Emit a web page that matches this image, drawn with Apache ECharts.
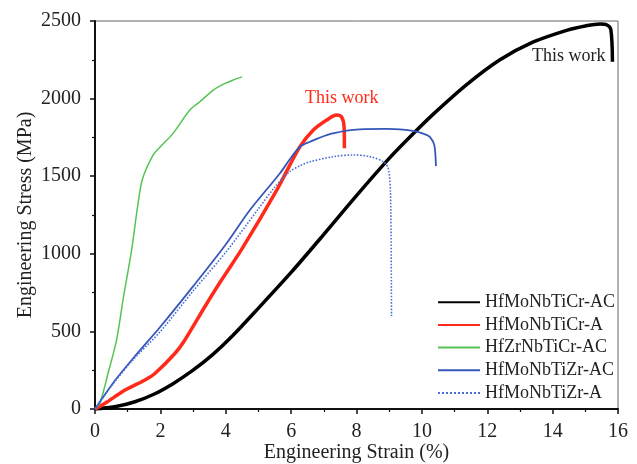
<!DOCTYPE html>
<html>
<head>
<meta charset="utf-8">
<script src="https://cdn.jsdelivr.net/npm/echarts@6/dist/echarts.min.js"></script>
<style>html,body{margin:0;padding:0;background:#fff}#c{width:637px;height:464px}</style>
</head>
<body>
<div id="c"></div>
<script>
const seriesNames = ['HfMoNbTiCr-AC', 'HfMoNbTiCr-A', 'HfZrNbTiCr-AC', 'HfMoNbTiZr-AC', 'HfMoNbTiZr-A'];
const xTicks = [0, 2, 4, 6, 8, 10, 12, 14, 16];
const yTicks = [0, 500, 1000, 1500, 2000, 2500];
const annotations = ['This work', 'This work'];

const hfMoNbTiCrAC = [[0,0],[0.6,14],[1.2,45],[1.8,95],[2.4,165],[3.0,250],[3.6,350],[4.2,470],[5,650],[6,880],[7,1125],[8,1375],[9,1615],[9.74,1775],[10.35,1900],[11.37,2090],[12.39,2250],[13.41,2365],[14.43,2440],[15,2468],[15.45,2481],[15.65,2476],[15.78,2445],[15.83,2238]];
const hfMoNbTiCrA = [[0,0],[0.31,37],[0.92,122],[1.53,187],[1.84,230],[2.45,359],[2.75,445],[3.36,659],[3.87,831],[4.49,1030],[5.56,1411],[6.27,1690],[6.68,1798],[7.09,1862],[7.39,1894],[7.54,1883],[7.62,1819],[7.63,1680]];
const hfZrNbTiCrAC = [[0,0],[0.15,38],[0.4,230],[0.66,445],[0.87,720],[1.12,1024],[1.3,1300],[1.45,1480],[1.78,1637],[2.0,1690],[2.39,1776],[2.9,1926],[3.2,1978],[3.62,2055],[4.0,2100],[4.23,2120],[4.5,2140]];
const hfMoNbTiZrAC = [[0,0],[0.6,180],[1.2,335],[2,530],[3,790],[4,1060],[4.74,1282],[5.66,1519],[6.0,1620],[6.27,1690],[6.58,1722],[7.09,1765],[7.7,1793],[8.1,1802],[8.9,1805],[9.5,1798],[9.84,1787],[10.1,1770],[10.25,1752],[10.38,1700],[10.43,1565]];
const hfMoNbTiZrA = [[0,0],[0.6,175],[1.2,325],[2,500],[3,760],[4,1010],[5,1290],[5.5,1430],[5.96,1530],[6.3,1570],[6.58,1593],[7.29,1626],[7.9,1637],[8.41,1626],[8.82,1593],[8.97,1551],[9.04,1400],[9.07,600]];

const serif = '"Liberation Serif", "DejaVu Serif", serif';
const chart = echarts.init(document.getElementById('c'), null, {renderer: 'canvas'});
const lineSeries = (name, data, color, width, type, smooth) => ({
  name, type: 'line', data, showSymbol: false, symbol: 'none', smooth,
  lineStyle: {color, width, type}, itemStyle: {color}, z: 3
});
chart.setOption({
  animation: false,
  backgroundColor: '#fff',
  grid: {left: 95, right: 19, top: 21, bottom: 55, containLabel: false, outerBoundsMode: 'none',
         show: true, borderColor: '#666', borderWidth: 1},
  xAxis: {
    type: 'value', min: xTicks[0], max: xTicks[xTicks.length - 1], interval: 2,
    name: 'Engineering Strain (%)', nameLocation: 'middle', nameGap: 34, nameMoveOverlap: false,
    nameTextStyle: {fontFamily: serif, fontSize: 20, color: '#222'},
    axisLine: {lineStyle: {color: '#111', width: 2}},
    axisTick: {length: 5, lineStyle: {color: '#111', width: 1.5}},
    minorTick: {show: true, splitNumber: 2, length: 3, lineStyle: {color: '#111', width: 1.2}},
    axisLabel: {fontFamily: serif, fontSize: 20, color: '#222', margin: 13, formatter: v => String(v)},
    splitLine: {show: false}
  },
  yAxis: {
    type: 'value', min: yTicks[0], max: yTicks[yTicks.length - 1], interval: 500,
    name: 'Engineering Stress (MPa)', nameLocation: 'middle', nameGap: 59, nameMoveOverlap: false,
    nameTextStyle: {fontFamily: serif, fontSize: 20, color: '#222'},
    axisLine: {show: true, lineStyle: {color: '#111', width: 2}},
    axisTick: {show: true, length: 5, lineStyle: {color: '#111', width: 1.5}},
    minorTick: {show: true, splitNumber: 2, length: 3, lineStyle: {color: '#111', width: 1.2}},
    axisLabel: {fontFamily: serif, fontSize: 20, color: '#222', margin: 14, formatter: v => String(v)},
    splitLine: {show: false}
  },
  legend: {
    right: 17, bottom: 57, orient: 'vertical', itemGap: 4.7, itemWidth: 42, itemHeight: 14,
    textStyle: {fontFamily: serif, fontSize: 18, lineHeight: 18, color: '#222'},
    itemStyle: {opacity: 0},
    data: seriesNames
  },
  series: [
    lineSeries(seriesNames[0], hfMoNbTiCrAC, '#000000', 3.5, 'solid', 0.3),
    lineSeries(seriesNames[1], hfMoNbTiCrA, '#ff2a1a', 3.5, 'solid', 0.3),
    lineSeries(seriesNames[2], hfZrNbTiCrAC, '#55c455', 1.5, 'solid', 0.3),
    lineSeries(seriesNames[3], hfMoNbTiZrAC, '#3557b8', 1.8, 'solid', 0.3),
    lineSeries(seriesNames[4], hfMoNbTiZrA, '#4a6fd8', 1.6, 'dotted', 0.3)
  ],
  graphic: [
    {type: 'text', left: 532, top: 47, style: {text: annotations[0], font: '18px ' + serif, fill: '#222'}},
    {type: 'text', left: 305, top: 89, style: {text: annotations[1], font: '18px ' + serif, fill: '#ff2a1a'}}
  ]
});
</script>
</body>
</html>
